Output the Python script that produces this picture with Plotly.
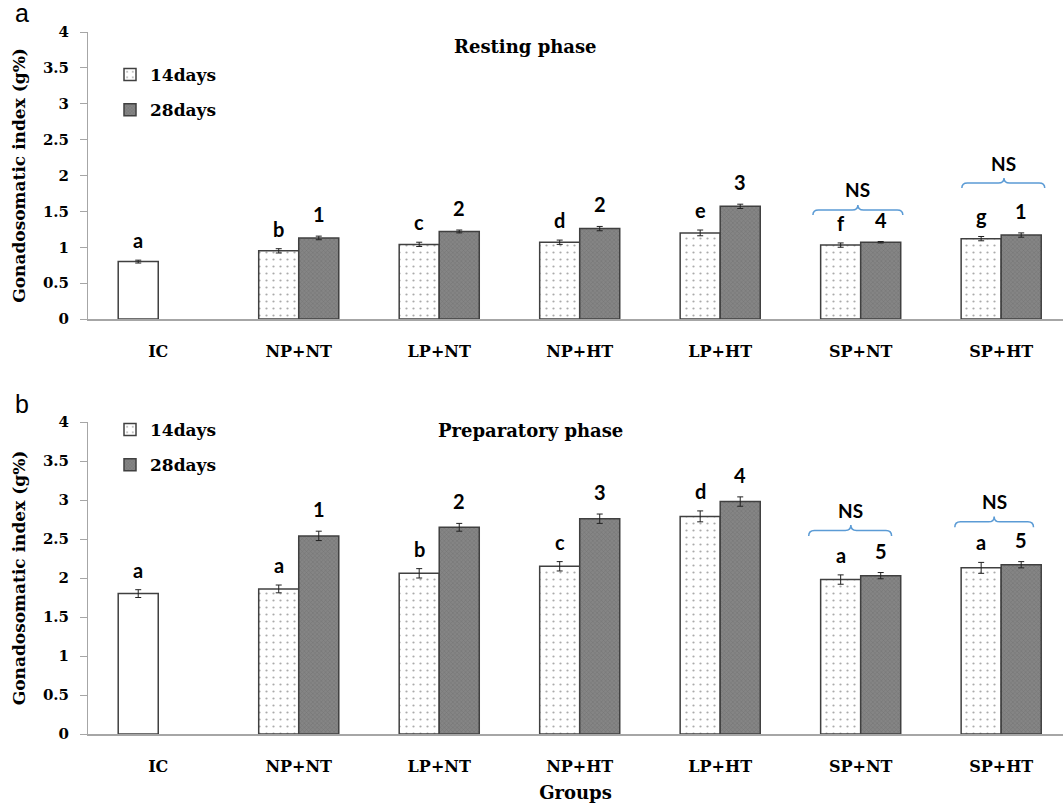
import plotly.graph_objects as go

# ---------------- data ----------------
groups = ["IC", "NP+NT", "LP+NT", "NP+HT", "LP+HT", "SP+NT", "SP+HT"]

rest_14 = [0.80, 0.95, 1.04, 1.07, 1.20, 1.03, 1.12]
rest_14_err = [0.02, 0.03, 0.03, 0.03, 0.04, 0.03, 0.03]
rest_28 = [None, 1.13, 1.22, 1.26, 1.57, 1.07, 1.17]
rest_28_err = [0, 0.025, 0.02, 0.03, 0.03, 0.01, 0.03]
rest_14_lbl = ["a", "b", "c", "d", "e", "f", "g"]
rest_28_lbl = ["", "1", "2", "2", "3", "4", "1"]

prep_14 = [1.80, 1.86, 2.06, 2.15, 2.79, 1.98, 2.13]
prep_14_err = [0.05, 0.05, 0.06, 0.06, 0.07, 0.06, 0.07]
prep_28 = [None, 2.54, 2.65, 2.76, 2.98, 2.03, 2.17]
prep_28_err = [0, 0.06, 0.05, 0.06, 0.06, 0.04, 0.04]
prep_14_lbl = ["a", "a", "b", "c", "d", "a", "a"]
prep_28_lbl = ["", "1", "2", "3", "4", "5", "5"]

y_ticks = [0, 0.5, 1, 1.5, 2, 2.5, 3, 3.5, 4]

# ---------------- styles ----------------
W, H = 1063, 808
SERIF = "DejaVu Serif"
LBL = "Lato"
EDGE = dict(color="#404040", width=1.5)
DOTS = dict(shape=".", bgcolor="white", fgcolor="#555555", size=7, solidity=0.08)
GREY = dict(shape="x", bgcolor="#858585", fgcolor="#5f5f5f", size=3, solidity=0.3)
ERR = dict(color="#222222", thickness=1, width=3)
BLUE = "#5b9bd5"


def py(px):
    return 1 - px / H


def pxx(px):
    return (px - 88) / 975


fig = go.Figure()


def add_panel(n, v14, e14, v28, e28, legend_name):
    xa = "x" if n == 1 else "x2"
    ya = "y" if n == 1 else "y2"
    # IC control bar (plain white, sits in the 14-day slot)
    fig.add_trace(go.Bar(
        x=groups[:1], y=v14[:1], xaxis=xa, yaxis=ya, offsetgroup="d14",
        marker=dict(color="white", line=EDGE),
        error_y=dict(type="data", array=e14[:1], **ERR),
        showlegend=False, hoverinfo="x+y"))
    fig.add_trace(go.Bar(
        x=groups[1:], y=v14[1:], xaxis=xa, yaxis=ya, offsetgroup="d14",
        name="14days", legend=legend_name, legendgroup=f"a{n}",
        marker=dict(color="white", line=EDGE, pattern=DOTS),
        error_y=dict(type="data", array=e14[1:], **ERR)))
    fig.add_trace(go.Bar(
        x=groups[1:], y=v28[1:], xaxis=xa, yaxis=ya, offsetgroup="d28",
        name="28days", legend=legend_name, legendgroup=f"b{n}",
        marker=dict(color="#858585", line=EDGE, pattern=GREY),
        error_y=dict(type="data", array=e28[1:], **ERR)))


add_panel(1, rest_14, rest_14_err, rest_28, rest_28_err, "legend")
add_panel(2, prep_14, prep_14_err, prep_28, prep_28_err, "legend2")

annotations = []
shapes = []

BAR_OFF = 0.143  # half-slot offset in category units


def add_letters(xa, ya, v14, e14, l14, v28, e28, l28):
    for i, g in enumerate(groups):
        if l14[i]:
            annotations.append(dict(
                x=i - BAR_OFF, y=v14[i] + e14[i], xref=xa, yref=ya,
                text=l14[i], showarrow=False, yanchor="bottom", yshift=6,
                font=dict(family=LBL, size=20, color="black", weight="bold")))
        if l28[i] and v28[i] is not None:
            annotations.append(dict(
                x=i + BAR_OFF, y=v28[i] + e28[i], xref=xa, yref=ya,
                text=l28[i], showarrow=False, yanchor="bottom", yshift=8,
                font=dict(family=LBL, size=20, color="black", weight="bold")))


add_letters("x", "y", rest_14, rest_14_err, rest_14_lbl, rest_28, rest_28_err, rest_28_lbl)
add_letters("x2", "y2", prep_14, prep_14_err, prep_14_lbl, prep_28, prep_28_err, prep_28_lbl)


def brace(xa, ya, x0, x1, xm, y, h, ty):
    d = 0.04
    path = (f"M {x0},{y - h} Q {x0},{y} {x0 + d},{y} L {xm - d},{y} "
            f"Q {xm},{y} {xm},{y + h} Q {xm},{y} {xm + d},{y} L {x1 - d},{y} "
            f"Q {x1},{y} {x1},{y - h}")
    shapes.append(dict(type="path", path=path, xref=xa, yref=ya,
                       line=dict(color=BLUE, width=1.5)))
    annotations.append(dict(x=xm, y=ty, xref=xa, yref=ya, text="NS", showarrow=False,
                            font=dict(family=LBL, size=19, color="black", weight="bold")))


brace("x", "y", 4.66, 5.30, 4.98, 1.52, 0.07, 1.80)
brace("x", "y", 5.72, 6.31, 6.02, 1.895, 0.07, 2.17)
brace("x2", "y2", 4.63, 5.22, 4.93, 2.61, 0.07, 2.87)
brace("x2", "y2", 5.67, 6.23, 5.95, 2.72, 0.07, 2.98)

# panel letters and titles
CENTER = dict(xref="paper", yref="paper", showarrow=False, xanchor="center", yanchor="middle")
annotations += [
    dict(x=pxx(22), y=py(13), text="a",
         font=dict(family="Liberation Sans", size=25, color="black"), **CENTER),
    dict(x=pxx(22), y=py(404), text="b",
         font=dict(family="Liberation Sans", size=25, color="black"), **CENTER),
    dict(x=pxx(525), y=py(46), text="Resting phase",
         font=dict(family=SERIF, size=18, color="black", weight="bold"), **CENTER),
    dict(x=pxx(530), y=py(430), text="Preparatory phase",
         font=dict(family=SERIF, size=18, color="black", weight="bold"), **CENTER),
]

yaxis_common = dict(
    range=[0, 4], tickvals=y_ticks, showgrid=False, zeroline=False,
    showline=True, linecolor="#a6a6a6", linewidth=1,
    ticks="outside", ticklen=7, tickcolor="#a6a6a6", ticklabelstandoff=8,
    tickfont=dict(family=SERIF, size=15, color="black", weight="bold"),
    title=dict(text="<b>Gonadosomatic index (g%)</b>", standoff=12,
               font=dict(family=SERIF, size=17, color="black")),
    automargin=False, fixedrange=True)
xaxis_common = dict(
    range=[-0.5, 6.44], showgrid=False, zeroline=False, showline=True,
    linecolor="#a6a6a6", linewidth=1.5, ticks="", ticklabelstandoff=17,
    tickfont=dict(family=SERIF, size=16, color="black", weight="bold"),
    automargin=False, fixedrange=True, domain=[0, 1])

legend_common = dict(
    xanchor="left", yanchor="top", bgcolor="rgba(0,0,0,0)", traceorder="grouped",
    tracegroupgap=10, font=dict(family=SERIF, size=17, color="black", weight="bold"),
    itemwidth=30)

fig.update_layout(
    width=W, height=H,
    margin=dict(l=88, r=0, t=0, b=0),
    paper_bgcolor="white", plot_bgcolor="white",
    barmode="group", bargap=0.43, bargroupgap=0,
    xaxis=dict(anchor="y", **xaxis_common),
    yaxis=dict(anchor="x", domain=[py(319), py(32)], **yaxis_common),
    xaxis2=dict(anchor="y2", title=dict(text="<b>Groups</b>", standoff=11,
                font=dict(family=SERIF, size=18, color="black")), **xaxis_common),
    yaxis2=dict(anchor="x2", domain=[py(734), py(422)], **yaxis_common),
    legend=dict(x=pxx(110), y=py(57), **legend_common),
    legend2=dict(x=pxx(110), y=py(412), **legend_common),
    annotations=annotations, shapes=shapes,
)

fig.write_html("out.html")
